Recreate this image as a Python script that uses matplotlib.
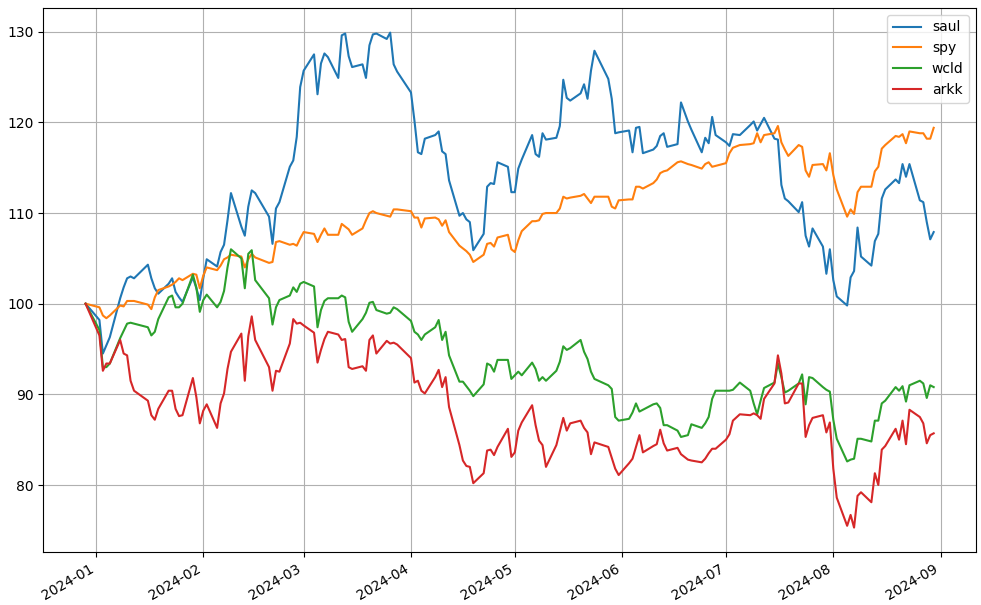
import matplotlib
matplotlib.use('Agg')
import matplotlib.pyplot as plt
import pandas as pd

# trading days 2023-12-29 .. 2024-08-30 (NYSE holidays removed)
HOLIDAYS = ['2024-01-01', '2024-01-15', '2024-02-19', '2024-03-29',
            '2024-05-27', '2024-06-19', '2024-07-04']
dates = pd.bdate_range('2023-12-29', '2024-08-30', freq='C', holidays=HOLIDAYS)

# normalised prices (start = 100), one block per month
saul = [100.0,
        98.2, 94.5, 95.4, 96.3, 100.6, 101.8, 102.8, 103.0, 102.8, 104.3, 102.8,
        101.7, 101.1, 102.2, 102.8, 101.3, 100.7, 100.2, 102.9, 101.7, 100.4,
        102.8, 104.9, 104.1, 105.7, 106.5, 109.2, 112.2, 108.5, 107.5, 110.7,
        112.5, 112.2, 109.6, 106.6, 110.5, 111.2, 115.1, 115.8, 118.4, 123.9,
        125.7, 127.5, 123.1, 126.5, 127.6, 127.2, 124.9, 129.6, 129.8, 127.3,
        126.1, 126.4, 124.9, 128.5, 129.7, 129.8, 129.2, 129.9, 126.4, 125.6,
        123.3, 120.2, 116.7, 116.5, 118.2, 118.6, 119.0, 116.8, 116.5, 113.6,
        109.7, 110.0, 109.3, 109.0, 105.9, 107.7, 112.9, 113.3, 113.2, 115.6,
        115.1, 112.3,
        112.3, 114.9, 115.9, 118.6, 116.5, 116.2, 118.8, 118.1, 118.3, 119.6,
        124.7, 122.7, 122.4, 123.2, 124.2, 122.6, 125.7, 127.9, 124.8, 122.6,
        118.8, 118.9,
        119.1, 116.7, 119.4, 119.5, 116.6, 117.0, 117.4, 118.5, 118.8, 117.3,
        117.6, 122.2, 120.1, 119.2, 116.7, 118.3, 117.7, 120.6, 118.6,
        117.8, 117.4, 118.7, 118.6, 119.7, 120.1, 119.1, 119.8, 120.5, 118.2,
        118.1, 113.1, 111.6, 111.3, 110.1, 111.2, 107.5, 106.3, 108.3, 106.3,
        103.3, 106.0,
        102.6, 100.8, 99.8, 102.9, 103.6, 108.4, 105.2, 104.2, 106.9, 107.7,
        111.6, 112.6, 113.7, 113.3, 115.4, 114.0, 115.4, 111.4, 111.2, 109.0,
        107.1, 107.9]

spy = [100.0,
       99.6, 98.7, 98.4, 98.7, 99.8, 99.7, 100.3, 100.3, 100.3, 99.9, 99.4,
       100.7, 101.5, 101.9, 102.1, 102.4, 102.8, 102.6, 103.3, 103.2, 101.7,
       103.1, 104.0, 103.7, 104.2, 104.9, 105.1, 105.4, 105.2, 104.0, 104.9,
       105.5, 105.1, 104.5, 104.6, 106.8, 106.9, 106.5, 106.6, 106.4, 107.2,
       107.9, 107.7, 106.8, 107.6, 108.3, 107.6, 107.6, 108.8, 108.5, 108.2,
       107.6, 108.3, 109.2, 110.0, 110.2, 110.0, 109.7, 109.6, 110.4, 110.4,
       110.2, 109.5, 109.5, 108.4, 109.4, 109.5, 109.3, 108.6, 109.2, 107.9,
       106.4, 106.1, 105.8, 105.4, 104.6, 105.4, 106.6, 106.7, 106.3, 107.3,
       107.6, 106.0,
       105.7, 107.0, 108.0, 109.1, 109.1, 109.2, 109.9, 110.0, 110.0, 110.5,
       111.8, 111.6, 111.7, 111.9, 112.1, 111.6, 111.1, 111.8, 111.8, 110.7,
       110.5, 111.4,
       111.5, 111.5, 112.9, 112.9, 112.7, 113.3, 113.7, 114.4, 114.6, 114.7,
       115.6, 115.7, 115.4, 115.3, 114.9, 115.4, 115.6, 115.1, 115.2,
       115.5, 116.6, 117.2, 117.5, 117.6, 117.7, 118.8, 117.8, 118.6, 118.8,
       119.6, 117.8, 117.0, 116.3, 117.5, 117.3, 114.7, 114.0, 115.3, 115.4,
       114.7, 116.6,
       114.2, 112.6, 109.6, 110.4, 109.9, 112.3, 112.9, 112.9, 114.6, 115.1,
       117.1, 117.5, 118.5, 118.4, 118.7, 117.7, 119.0, 118.8, 118.8, 118.2,
       118.2, 119.4]

wcld = [100.0,
        97.1, 93.0, 93.0, 93.4, 96.2, 97.0, 97.8, 97.9, 97.8, 97.4, 96.5,
        96.9, 98.3, 100.7, 100.9, 99.6, 99.6, 100.0, 103.2, 101.8, 99.1,
        100.4, 101.0, 99.6, 100.2, 101.4, 104.0, 106.0, 105.0, 101.7, 105.5,
        105.9, 102.6, 100.6, 97.7, 99.6, 100.4, 100.9, 101.8, 101.3, 102.2,
        102.4, 101.9, 97.4, 99.3, 100.3, 100.6, 100.6, 100.9, 100.7, 98.0,
        96.9, 98.3, 99.0, 100.1, 100.2, 99.3, 98.9, 99.0, 99.6, 99.4,
        98.1, 96.9, 96.6, 96.0, 96.6, 97.4, 98.2, 96.0, 96.9, 94.3,
        91.4, 91.4, 90.9, 90.4, 89.8, 91.1, 93.4, 93.2, 92.5, 93.8,
        93.8, 91.7,
        92.1, 92.5, 92.1, 93.5, 92.8, 91.5, 91.9, 91.5, 92.6, 93.6,
        95.3, 94.9, 95.1, 96.0, 94.7, 93.9, 92.5, 91.7, 91.0, 90.6,
        87.5, 87.1,
        87.3, 88.0, 89.0, 88.1, 88.3, 88.9, 89.0, 88.5, 86.6, 86.6,
        86.0, 85.3, 85.5, 86.7, 86.3, 86.8, 87.5, 89.5, 90.4,
        90.4, 90.4, 90.5, 91.3, 90.4, 89.0, 87.8, 89.3, 90.7, 91.3,
        93.4, 91.9, 90.2, 90.4, 91.2, 92.2, 88.9, 91.9, 91.8, 90.8,
        90.5, 90.3,
        87.2, 85.1, 82.6, 82.8, 82.9, 85.1, 85.1, 84.8, 87.1, 87.1,
        89.0, 89.3, 90.8, 90.4, 90.9, 89.2, 91.0, 91.5, 91.2, 89.6,
        91.0, 90.8]

arkk = [100.0,
        96.5, 92.6, 93.4, 93.4, 96.0, 94.5, 94.3, 91.5, 90.4, 89.3, 87.7,
        87.2, 88.4, 90.4, 90.4, 88.4, 87.6, 87.7, 91.8, 89.7, 86.8,
        88.2, 88.9, 86.3, 89.0, 90.1, 92.8, 94.7, 96.7, 91.5, 96.4,
        98.6, 96.0, 93.0, 90.4, 92.6, 92.5, 95.6, 98.3, 97.8, 97.9,
        97.6, 96.8, 93.5, 94.9, 96.1, 96.9, 96.6, 96.0, 96.1, 93.0,
        92.8, 93.1, 92.6, 96.0, 96.5, 94.5, 95.9, 95.6, 95.7, 95.5,
        94.0, 91.3, 91.5, 90.4, 90.1, 91.9, 92.7, 90.8, 91.9, 88.6,
        84.4, 82.7, 82.1, 82.0, 80.2, 81.3, 83.8, 83.9, 83.3, 84.2,
        86.2, 83.1,
        83.6, 86.0, 86.9, 88.8, 86.6, 84.9, 84.4, 82.0, 84.4, 85.9,
        87.4, 86.0, 86.8, 87.1, 86.3, 85.8, 83.4, 84.7, 84.2, 83.0,
        81.8, 81.1,
        82.4, 82.9, 84.2, 85.5, 83.6, 84.3, 84.5, 86.1, 84.6, 83.8,
        84.1, 83.4, 82.8, 82.7, 82.5, 82.9, 83.5, 84.0, 84.0,
        85.0, 85.6, 87.1, 87.8, 87.7, 87.9, 87.7, 87.3, 89.5, 91.2,
        94.3, 92.3, 89.0, 89.1, 91.2, 91.2, 85.3, 86.6, 87.4, 87.7,
        85.8, 86.9,
        81.8, 78.6, 75.5, 76.7, 75.3, 78.8, 79.2, 78.1, 81.3, 80.0,
        83.9, 84.3, 86.2, 85.0, 87.1, 84.5, 88.3, 87.5, 86.8, 84.6,
        85.5, 85.7]

series = {'saul': saul, 'spy': spy, 'wcld': wcld, 'arkk': arkk}

fig = plt.figure(figsize=(9.81, 6.05), dpi=100)
ax = fig.add_axes([0.044, 0.087, 0.951, 0.9])
for name, vals in series.items():
    ax.plot(dates, vals, label=name)

ax.grid(True)
ax.legend(loc='upper right')
fig.autofmt_xdate()
ax.set_position([0.044, 0.087, 0.951, 0.9])

fig.savefig('out.png', dpi=100)
plt.close(fig)
